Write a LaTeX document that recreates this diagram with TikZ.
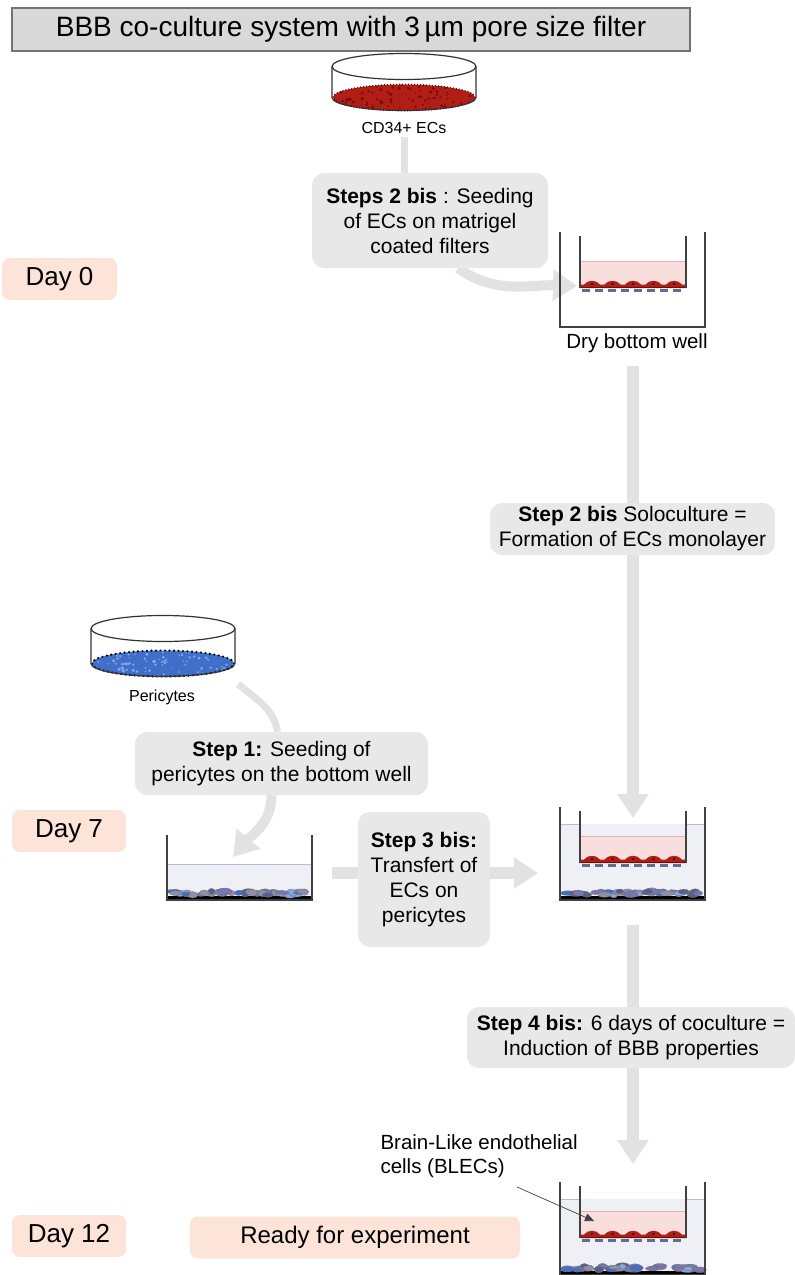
\documentclass[tikz,border=0pt]{standalone}
\usepackage{fontspec}
\setmainfont{Liberation Sans}
\usetikzlibrary{arrows.meta,backgrounds,positioning}

\definecolor{titlegray}{HTML}{D9D9D9}
\definecolor{stepgray}{HTML}{E8E8E8}
\definecolor{flowgray}{HTML}{E2E2E2}
\definecolor{daypeach}{HTML}{FCE4D8}
\definecolor{mediumpink}{HTML}{F9DEDE}
\definecolor{pinkedge}{HTML}{E6B0B0}
\definecolor{ecred}{HTML}{B01E16}
\definecolor{ecdark}{HTML}{6E0E0A}
\definecolor{wellmedium}{HTML}{EFEFF6}
\definecolor{mediumedge}{HTML}{B9B9E3}
\definecolor{filterblue}{HTML}{5F6E8E}
\definecolor{pcblue}{HTML}{3F6FC8}
\definecolor{pcslate}{HTML}{55608F}
\definecolor{pcgray}{HTML}{8D90A6}
\definecolor{pclight}{HTML}{86A6E6}
\definecolor{pclilac}{HTML}{7A74B0}

\pgfmathdeclarerandomlist{pccolours}{{pcblue}{pcslate}{pcgray}{pclight}{pclilac}}

\tikzset{
  titlebox/.style={fill=titlegray, draw=black!55, line width=1.2pt,
    minimum width=678pt, minimum height=43pt, font=\fontsize{28}{32}\selectfont},
  stepbox/.style={fill=stepgray, rounded corners=12pt, align=center,
    font=\fontsize{21}{25}\selectfont},
  daybox/.style={fill=daypeach, rounded corners=8pt, minimum height=42pt,
    font=\fontsize{26}{30}\selectfont},
  dish label/.style={font=\fontsize{16}{19}\selectfont},
  well label/.style={font=\fontsize{20.5}{23.5}\selectfont},
  flow/.style={draw=flowgray, line width=12pt, -{Triangle[length=24pt,width=30pt]}},
  feed/.style={draw=flowgray, line width=7pt},
  pointer/.style={draw=black!75, line width=0.7pt, -{Triangle[length=9pt,width=8pt]}},
  wellwall/.style={draw=black!75, line width=1.6pt},
  ecfringe/.style={draw=ecdark, line width=1.6pt, dash pattern=on 1pt off 2pt},
  pcfringe/.style={draw=black, line width=2.4pt, dash pattern=on 0pt off 4.5pt, line cap=round},
}

% petri dish: #1 rim centre, #2 cell colour, #3 speck colour, #4 depth, #5 edge style
\newcommand{\culturedish}[5]{%
  \begin{scope}[shift={(#1)}]
    \fill[#2] (0,#4) ellipse (71pt and 13pt);
    \begin{scope}
      \clip (0,#4) ellipse (71pt and 13pt);
      \foreach \k in {1,...,90}
        \fill[#3] ({-70+rnd*140},{#4-13+rnd*26}) circle ({0.6+rnd*1.2});
    \end{scope}
    \draw[#5] (0,#4) ellipse (71pt and 13pt);
    \draw[black!80, line width=1.2pt] (-72,0) -- (-72,#4)
      arc[start angle=180, end angle=360, x radius=72pt, y radius=13pt] -- (72,0);
    \draw[black!80, line width=1.2pt] (0,0) ellipse (72pt and 13pt);
  \end{scope}}

% pericytes on the floor of a well: #1 floor left end, #2 width
\newcommand{\pericytebed}[2]{%
  \begin{scope}[shift={(#1)}]
    \fill[black] (0,-4) rectangle (#2,0);
    \foreach \k in {1,...,48} {
      \pgfmathrandomitem{\bc}{pccolours}
      \fill[\bc, draw=black!55, line width=0.3pt]
        ({4+rnd*(#2-8)},{-5-rnd*4}) ellipse ({3.5+rnd*4} and {1.8+rnd*1.6});
    }
  \end{scope}}

% filter insert with medium and EC monolayer, in the frame of its well
\newcommand{\filterinsert}{%
  \fill[mediumpink] (20,29) rectangle (126,56);
  \draw[pinkedge, line width=0.6pt] (20,29) -- (126,29);
  \fill[ecred] (20,56) -- (20,52.5)
    \foreach \bump in {32,52.5,73,93.5,114} {
      -- (\bump-8,52.5) .. controls (\bump-4,47.5) and (\bump+4,47.5) .. (\bump+8,52.5) }
    -- (126,52.5) -- (126,56) -- cycle;
  \draw[ecdark, line width=0.8pt] (20,55.6) -- (126,55.6);
  \foreach \bump in {32,52.5,73,93.5,114}
    \fill[black] (\bump,52) circle (1.2pt);
  \draw[filterblue, line width=2.6pt, dash pattern=on 8pt off 5pt] (22,58.5) -- (125,58.5);
  \draw[wellwall] (20,4) -- (20,56) (126,4) -- (126,56);}

% empty outer well with insert
\newcommand{\drywell}[1]{%
  \begin{scope}[shift={(#1)}]
    \draw[wellwall] (0,0) -- (0,95) -- (145,95) -- (145,0);
    \filterinsert
  \end{scope}}

% bottom well with medium and pericytes: #1 top left corner, #2 depth
\newcommand{\bottomwell}[2]{%
  \begin{scope}[shift={(#1)}]
    \fill[wellmedium] (0,#2-36) rectangle (145,#2);
    \draw[mediumedge, line width=0.6pt] (0,#2-36) -- (145,#2-36);
    \pericytebed{0,#2}{145}
    \draw[wellwall] (0,0) -- (0,#2) -- (145,#2) -- (145,0);
  \end{scope}}

% co-culture well: pericytes below, ECs on the insert
\newcommand{\transwell}[1]{%
  \begin{scope}[shift={(#1)}]
    \fill[wellmedium] (0,17) rectangle (145,93);
    \draw[mediumedge, line width=0.6pt] (0,17) -- (20,17) (126,17) -- (145,17);
    \pericytebed{0,93}{145}
    \draw[wellwall] (0,0) -- (0,93) -- (145,93) -- (145,0);
    \filterinsert
  \end{scope}}

\begin{document}
\begin{tikzpicture}[x=1pt,y=-1pt]
\useasboundingbox (0,0) rectangle (795,1275);
\pgfmathsetseed{11}

% title
\node[titlebox] (title) at (351,29.5) {BBB co-culture system with 3\,µm pore size filter};

% days
\node[daybox, minimum width=115pt] (day0) at (59.5,279) {Day 0};
\node[daybox, minimum width=114pt] (day7) at (69,831) {Day 7};
\node[daybox, minimum width=114pt] (day12) at (69,1236) {Day 12};
\node[daybox, minimum width=330pt, font=\fontsize{24}{28}\selectfont] (ready)
  at (355,1237.5) {Ready for experiment};

% dishes
\culturedish{404,66.5}{ecred}{ecdark}{31}{ecfringe}
\node[dish label] (ecslabel) at (404,128) {CD34+ ECs};
\culturedish{163,628.5}{pcblue}{pclight}{35}{pcfringe}
\node[dish label] (pclabel) at (162,697) {Pericytes};

% wells
\drywell{560,232}
\node[well label] (drylabel) at (637,343) {Dry bottom well};
\bottomwell{167,835}{65}
\transwell{560,807}
\transwell{560,1182}

% steps
\node[stepbox, minimum width=236pt, minimum height=95pt] (seedbox) at (430,220.5)
  {\textbf{Steps 2 bis} : Seeding\\of ECs on matrigel\\coated filters};
\node[stepbox, minimum width=285pt, minimum height=52pt] (solobox) at (632.5,529)
  {\textbf{Step 2 bis} Soloculture =\\Formation of ECs monolayer};
\node[stepbox, minimum width=293pt, minimum height=63pt] (step1box) at (281.5,763.5)
  {\textbf{Step 1:} Seeding of\\pericytes on the bottom well};
\node[stepbox, minimum width=132pt, minimum height=135pt] (step3box) at (424,879.5)
  {\textbf{Step 3 bis:}\\Transfert of\\ECs on\\pericytes};
\node[stepbox, minimum width=328pt, minimum height=61pt] (step4box) at (631,1037.5)
  {\textbf{Step 4 bis:} 6 days of coculture =\\Induction of BBB properties};

% BLEC pointer
\node[well label, align=left, anchor=west] (bleclabel) at (377,1156)
  {Brain-Like endothelial\\cells (BLECs)};
\coordinate (blecfoot) at (517,1187);
\coordinate (blectip) at (594,1221);
\draw[pointer] (blecfoot) -- (blectip);

% connectors
\coordinate (seedtip) at (577,286);
\coordinate (solostart) at (633,366);
\coordinate (solotip) at (633,818);
\coordinate (pcfeed) at (238,684);
\coordinate (pctip) at (233,857);
\coordinate (transstart) at (332,873);
\coordinate (transtip) at (538,873);
\coordinate (cocultstart) at (633,925);
\coordinate (cocultip) at (633,1164);

\begin{scope}[on background layer]
  \draw[feed] (ecslabel.south) -- (ecslabel.south |- seedbox.north);
  \draw[flow, line width=10pt] ([xshift=28pt]seedbox.south) to[out=-35,in=178] (seedtip);
  \draw[flow] (solostart) -- (solotip);
  \draw[feed] (pcfeed) to[out=-40,in=100] ([xshift=-4pt]step1box.north);
  \draw[flow, line width=10pt] ([xshift=-10pt]step1box.south) to[out=-90,in=50] (pctip);
  \draw[flow] (transstart) -- (transtip);
  \draw[flow] (cocultstart) -- (cocultip);
\end{scope}
\end{tikzpicture}
\end{document}
